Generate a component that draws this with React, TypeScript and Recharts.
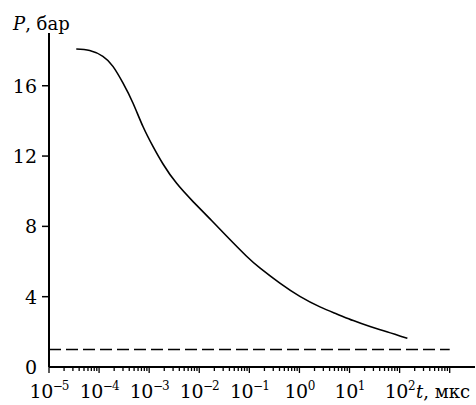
import { LineChart, Line, XAxis, YAxis, Label } from 'recharts';

// P(t) curve
const times = [3.5e-5, 6.5e-5, 1.19e-4, 1.89e-4, 2.99e-4, 4.74e-4, 7.52e-4, 1.19e-3, 1.89e-3, 3.5e-3, 7.52e-3, 0.0162, 0.035, 0.088, 0.162, 0.407, 1.02, 2.57, 5.55, 11.9, 25.7, 55.5, 143];
const pressures = [18.09, 18.0, 17.67, 17.1, 16.16, 15.02, 13.68, 12.55, 11.55, 10.46, 9.41, 8.44, 7.45, 6.3, 5.64, 4.77, 4.02, 3.42, 3.02, 2.64, 2.3, 2.01, 1.63];

// dashed level at 1 bar
const levelTimes = [1e-5, 1e3];
const levelPressures = [1, 1];

const decades = [-5, -4, -3, -2, -1, 0, 1, 2, 3];
const labelledDecades = [-5, -4, -3, -2, -1, 0, 1, 2];
const yTicks = [0, 4, 8, 12, 16];

const curveData = times.map((t, i) => ({ t, p: pressures[i] }));
const levelData = levelTimes.map((t, i) => ({ t, p: levelPressures[i] }));

const xTicks: number[] = [];
decades.forEach((d) => {
  xTicks.push(Math.pow(10, d));
  if (d < 3) for (let m = 2; m <= 9; m++) xTicks.push(m * Math.pow(10, d));
});

const FONT = 'DejaVu Serif';

function XTick(props: any) {
  const { x, y, payload } = props;
  const v = payload.value as number;
  const e = Math.round(Math.log10(v));
  const major = Math.abs(Math.pow(10, e) - v) < v * 1e-6;
  const showLabel = major && labelledDecades.includes(e);
  const exp = e < 0 ? '\u2212' + Math.abs(e) : String(e);
  return (
    <g>
      <line x1={x} x2={x} y1={y} y2={y + (major ? 6 : 4)} stroke="#000" strokeWidth={1.3} />
      {showLabel && (
        <text x={x} y={y + 31} textAnchor="middle" fontFamily={FONT} fontSize={19} letterSpacing={-0.5} fill="#000">
          10
          <tspan fontSize={12} dy={-8} letterSpacing={-1}>{exp}</tspan>
        </text>
      )}
    </g>
  );
}

function YTick(props: any) {
  const { x, y, payload } = props;
  const v = payload.value as number;
  return (
    <g>
      {v !== 0 && <line x1={x} x2={x - 7} y1={y} y2={y} stroke="#000" strokeWidth={1.5} />}
      <text x={x - 12} y={y + 7} textAnchor="end" fontFamily={FONT} fontSize={19} fill="#000">
        {v}
      </text>
    </g>
  );
}

export default function App() {
  return (
    <div style={{ position: 'absolute', left: 0, top: 0, background: '#fff', fontFamily: FONT }}>
      <LineChart width={476} height={405} margin={{ top: 33, right: 1, bottom: 0, left: 0 }}>
        <XAxis
          dataKey="t"
          type="number"
          scale="log"
          domain={[1e-5, 3200]}
          allowDataOverflow
          ticks={xTicks}
          interval={0}
          tick={<XTick />}
          tickLine={false}
          tickSize={0}
          tickMargin={0}
          height={38}
          axisLine={{ stroke: '#000', strokeWidth: 2 }}
        >
          <Label
            content={(p: any) => {
              const vb = p.viewBox;
              return (
                <text x={vb.x + vb.width - 59} y={vb.y + 31} fontFamily={FONT} fontSize={18} fill="#000">
                  <tspan fontStyle="italic">t</tspan>, мкс
                </text>
              );
            }}
          />
        </XAxis>
        <YAxis
          type="number"
          domain={[0, 19]}
          ticks={yTicks}
          interval={0}
          tick={<YTick />}
          tickLine={false}
          tickSize={0}
          tickMargin={0}
          width={49}
          axisLine={{ stroke: '#000', strokeWidth: 2 }}
        >
          <Label
            content={(p: any) => {
              const vb = p.viewBox;
              return (
                <text x={13} y={vb.y - 3} fontFamily={FONT} fontSize={18} fill="#000">
                  <tspan fontStyle="italic">P</tspan>, бар
                </text>
              );
            }}
          />
        </YAxis>
        <Line
          data={levelData}
          dataKey="p"
          stroke="#000"
          strokeWidth={1.5}
          strokeDasharray="12 5"
          dot={false}
          isAnimationActive={false}
        />
        <Line
          data={curveData}
          dataKey="p"
          type="natural"
          stroke="#000"
          strokeWidth={1.6}
          dot={false}
          isAnimationActive={false}
        />
      </LineChart>
    </div>
  );
}
